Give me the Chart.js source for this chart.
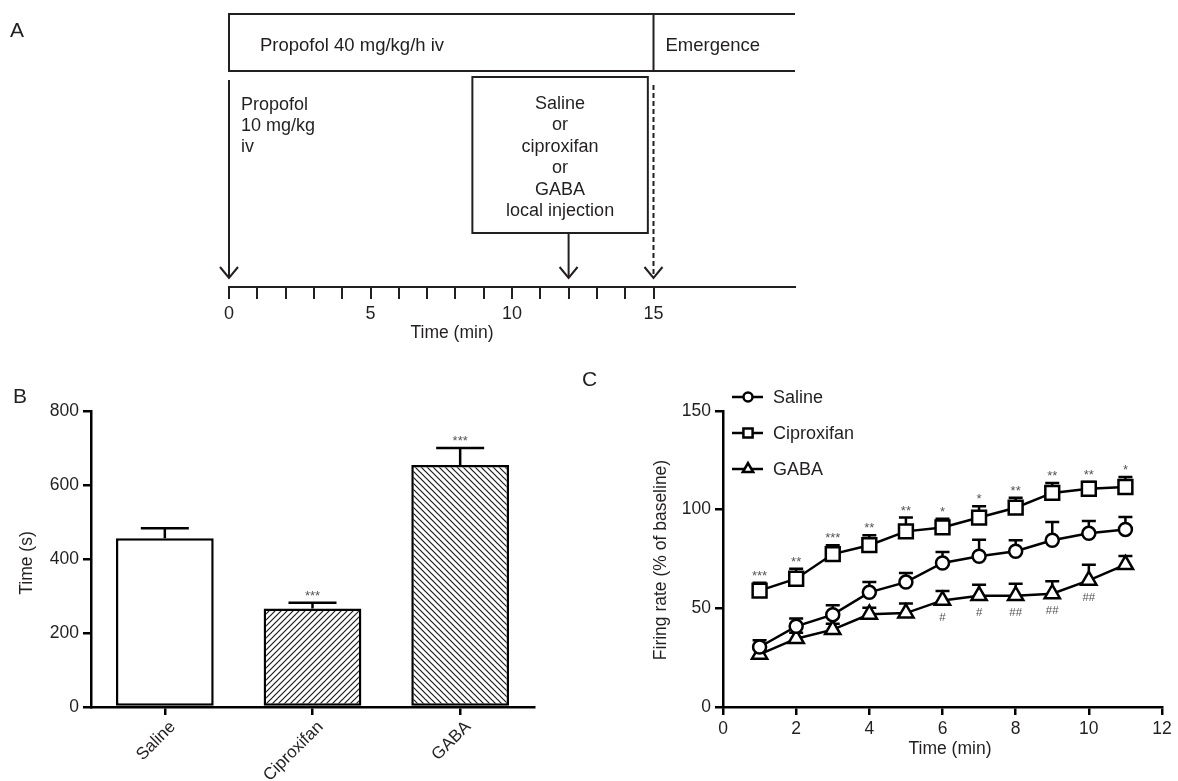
<!DOCTYPE html>
<html><head><meta charset="utf-8">
<script src="https://cdn.jsdelivr.net/npm/chart.js@4.4.1/dist/chart.umd.min.js"></script>
<style>
html,body{margin:0;padding:0;background:#fff;}
#wrap{position:relative;width:1178px;height:781px;overflow:hidden;background:#fff;}
canvas{position:absolute;}
</style></head><body>
<div id="wrap">
<canvas id="cA" width="1178" height="360" style="left:0;top:0"></canvas>
<canvas id="cB" width="580" height="411" style="left:0;top:370px"></canvas>
<canvas id="cC" width="598" height="411" style="left:580px;top:370px"></canvas>
</div>
<script>
// ---------- Panel A: protocol timeline ----------
const timeTicks = [0,1,2,3,4,5,6,7,8,9,10,11,12,13,14,15];
const timeTickLabels = [0,5,10,15];
const phaseBounds = [0, 15, 20];
const phaseLabels = ['Propofol 40 mg/kg/h iv', 'Emergence'];
const bolusTime = 0;
const bolusLines = ['Propofol', '10 mg/kg', 'iv'];
const injectionTime = 12;
const injectionWindow = [8.6, 14.8];
const injectionLines = ['Saline', 'or', 'ciproxifan', 'or', 'GABA', 'local injection'];
const emergenceTime = 15;

// ---------- Panel B: emergence time ----------
const groups = ['Saline', 'Ciproxifan', 'GABA'];
const meanTime = [456, 266, 654];
const semTime = [27, 16, 46];
const sigTime = ['', '***', '***'];
const timeAxisTicks = [0, 200, 400, 600, 800];

// ---------- Panel C: firing rate ----------
const minutes = [1,2,3,4,5,6,7,8,9,10,11];
const salineRate = [30.4, 40.9, 46.8, 58.1, 63.3, 73.0, 76.4, 78.9, 84.5, 88.0, 90.0];
const salineErr  = [3.4, 3.9, 4.7, 5.2, 4.6, 5.5, 8.4, 5.6, 9.2, 6.3, 6.3];
const ciproRate  = [59.0, 65.0, 77.5, 82.0, 89.0, 91.0, 96.0, 101.0, 108.5, 110.6, 111.5];
const ciproErr   = [4.0, 5.0, 4.5, 5.0, 7.0, 4.4, 5.7, 5.0, 5.0, 3.4, 5.0];
const gabaRate   = [26.7, 34.6, 39.2, 47.0, 47.6, 54.0, 56.4, 56.4, 57.4, 64.2, 72.1];
const gabaErr    = [3.0, 3.0, 3.0, 3.3, 4.8, 4.8, 5.6, 6.1, 6.3, 7.9, 4.4];
const ciproSig   = ['***','**','***','**','**','*','*','**','**','**','*'];
const gabaSig    = ['','','','','','#','#','##','##','##',''];
const seriesNames = ['Saline', 'Ciproxifan', 'GABA'];

const INK = '#231f20';
const FONT = '"Liberation Sans", Arial, Helvetica, sans-serif';

function font(size){ return size + 'px ' + FONT; }

function arrowDown(ctx, x, y0, y1, dashed){
  ctx.save();
  ctx.strokeStyle = INK; ctx.lineWidth = 2;
  if (dashed) ctx.setLineDash([5, 3]);
  ctx.beginPath(); ctx.moveTo(x, y0); ctx.lineTo(x, y1); ctx.stroke();
  ctx.setLineDash([]);
  ctx.beginPath();
  ctx.moveTo(x - 9, y1 - 11); ctx.lineTo(x, y1); ctx.lineTo(x + 9, y1 - 11);
  ctx.stroke();
  ctx.restore();
}

// ----- Chart A -----
const timelinePlugin = {
  id: 'timeline',
  afterDraw(chart){
    const ctx = chart.ctx, xs = chart.scales.x;
    const X = v => xs.getPixelForValue(v);
    ctx.save();
    ctx.strokeStyle = INK; ctx.lineWidth = 2; ctx.fillStyle = INK;
    const top = 14, bot = 71;
    ctx.beginPath();
    ctx.moveTo(X(phaseBounds[2]), top); ctx.lineTo(X(phaseBounds[0]), top);
    ctx.lineTo(X(phaseBounds[0]), bot); ctx.lineTo(X(phaseBounds[2]), bot);
    ctx.moveTo(X(phaseBounds[1]), top); ctx.lineTo(X(phaseBounds[1]), bot);
    ctx.stroke();
    ctx.font = font(18.5); ctx.textBaseline = 'alphabetic'; ctx.textAlign = 'left';
    ctx.fillText(phaseLabels[0], X(phaseBounds[0]) + 31, 51);
    ctx.fillText(phaseLabels[1], X(phaseBounds[1]) + 12, 51);
    arrowDown(ctx, X(bolusTime), 80, 278, false);
    ctx.font = font(18);
    bolusLines.forEach((t, i) => ctx.fillText(t, X(bolusTime) + 12, 110 + i * 21));
    const bx0 = X(injectionWindow[0]), bx1 = X(injectionWindow[1]);
    ctx.strokeRect(bx0, 77, bx1 - bx0, 156);
    ctx.textAlign = 'center';
    const cx = (bx0 + bx1) / 2;
    injectionLines.forEach((t, i) => ctx.fillText(t, cx, 109 + i * 21.4));
    arrowDown(ctx, X(injectionTime), 233, 278, false);
    arrowDown(ctx, X(emergenceTime), 85, 278, true);
    ctx.font = font(17.5);
    ctx.fillText('Time (min)', 452, 338);
    ctx.textAlign = 'left'; ctx.font = font(21);
    ctx.fillText('A', 10, 37);
    ctx.restore();
  }
};

new Chart(document.getElementById('cA'), {
  type: 'scatter',
  data: { datasets: [] },
  options: {
    responsive: false, animation: false,
    layout: { padding: { left: 229, right: 383, top: 0, bottom: 0 } },
    plugins: { legend: { display: false }, tooltip: { enabled: false } },
    scales: {
      x: {
        type: 'linear', min: phaseBounds[0], max: phaseBounds[2], position: 'bottom',
        afterBuildTicks: s => { s.ticks = timeTicks.map(v => ({ value: v })); },
        afterFit: s => { s.height = 73; },
        ticks: { autoSkip: false, maxRotation: 0, padding: 4, color: INK, font: { family: FONT, size: 18 },
                 callback: v => timeTickLabels.includes(v) ? String(v) : '' },
        grid: { drawOnChartArea: false, drawTicks: true, tickLength: 12, color: INK, lineWidth: 2 },
        border: { display: true, color: INK, width: 2 }
      },
      y: { display: false, min: 0, max: 1 }
    }
  },
  plugins: [timelinePlugin]
});

// ----- Chart B -----
function hatch(ctxRef, dir){
  const s = 6, c = document.createElement('canvas');
  c.width = s; c.height = s;
  const g = c.getContext('2d');
  g.fillStyle = '#fff'; g.fillRect(0, 0, s, s);
  g.strokeStyle = '#1a1a1a'; g.lineWidth = 1.2;
  g.beginPath();
  if (dir > 0) {
    g.moveTo(0, s); g.lineTo(s, 0);
    g.moveTo(-s/2, s/2); g.lineTo(s/2, -s/2);
    g.moveTo(s/2, s*1.5); g.lineTo(s*1.5, s/2);
  } else {
    g.moveTo(0, 0); g.lineTo(s, s);
    g.moveTo(-s/2, s/2); g.lineTo(s/2, s*1.5);
    g.moveTo(s/2, -s/2); g.lineTo(s*1.5, s/2);
  }
  g.stroke();
  return ctxRef.createPattern(c, 'repeat');
}
const cB = document.getElementById('cB');
const ctxB = cB.getContext('2d');
const barFills = ['#ffffff', hatch(ctxB, 1), hatch(ctxB, -1)];

const barErrPlugin = {
  id: 'barErr',
  afterDatasetsDraw(chart){
    const ctx = chart.ctx, ys = chart.scales.y;
    const meta = chart.getDatasetMeta(0);
    ctx.save();
    ctx.strokeStyle = '#000'; ctx.lineWidth = 2.5;
    meta.data.forEach((bar, i) => {
      const x = bar.x, y0 = ys.getPixelForValue(meanTime[i]), y1 = ys.getPixelForValue(meanTime[i] + semTime[i]);
      ctx.beginPath();
      ctx.moveTo(x, y0); ctx.lineTo(x, y1);
      ctx.moveTo(x - 24, y1); ctx.lineTo(x + 24, y1);
      ctx.stroke();
      if (sigTime[i]) {
        ctx.fillStyle = '#555'; ctx.font = font(13); ctx.textAlign = 'center'; ctx.textBaseline = 'alphabetic';
        ctx.fillText(sigTime[i], x, y1 - 3);
      }
    });
    ctx.restore();
  },
  afterDraw(chart){
    const ctx = chart.ctx, a = chart.chartArea;
    ctx.save();
    ctx.fillStyle = INK; ctx.font = font(17.5); ctx.textAlign = 'center'; ctx.textBaseline = 'middle';
    ctx.translate(27, (a.top + a.bottom) / 2 + 4); ctx.rotate(-Math.PI / 2);
    ctx.fillText('Time (s)', 0, 0);
    ctx.restore();
    ctx.save();
    ctx.fillStyle = INK; ctx.font = font(21); ctx.textAlign = 'left'; ctx.textBaseline = 'alphabetic';
    ctx.fillText('B', 13, 33);
    ctx.restore();
  }
};

new Chart(cB, {
  type: 'bar',
  data: {
    labels: groups,
    datasets: [{
      data: meanTime,
      backgroundColor: barFills,
      borderColor: '#000', borderWidth: 2.5, borderSkipped: false,
      barPercentage: 0.662, categoryPercentage: 1
    }]
  },
  options: {
    responsive: false, animation: false,
    layout: { padding: { left: 0, right: 46, top: 41, bottom: 0 } },
    plugins: { legend: { display: false }, tooltip: { enabled: false } },
    scales: {
      x: {
        type: 'category', offset: true,
        afterFit: s => { s.height = 74; },
        ticks: { minRotation: 45, maxRotation: 45, padding: 2, labelOffset: 8, color: INK, font: { family: FONT, size: 17 } },
        grid: { offset: false, drawOnChartArea: false, tickLength: 8, color: '#000', lineWidth: 2.5 },
        border: { color: '#000', width: 2.5 }
      },
      y: {
        min: 0, max: 800,
        afterBuildTicks: s => { s.ticks = timeAxisTicks.map(v => ({ value: v })); },
        afterFit: s => { s.width = 91; },
        ticks: { padding: 4, color: INK, font: { family: FONT, size: 17.5 } },
        grid: { drawOnChartArea: false, tickLength: 8, color: '#000', lineWidth: 2.5 },
        border: { color: '#000', width: 2.5 }
      }
    }
  },
  plugins: [barErrPlugin]
});

// ----- Chart C -----
const rates = [salineRate, ciproRate, gabaRate];
const errs = [salineErr, ciproErr, gabaErr];
const styles = [
  { pointStyle: 'circle', radius: 6.5, legendRadius: 4.5 },
  { pointStyle: 'rect', radius: 9.8, legendRadius: 6.5 },
  { pointStyle: 'triangle', radius: 8.8, legendRadius: 6 }
];

const lineErrPlugin = {
  id: 'lineErr',
  beforeDatasetsDraw(chart){
    const ctx = chart.ctx, xs = chart.scales.x, ys = chart.scales.y;
    ctx.save();
    ctx.strokeStyle = '#000'; ctx.lineWidth = 2.5;
    rates.forEach((arr, d) => {
      arr.forEach((v, i) => {
        const x = xs.getPixelForValue(minutes[i]);
        const y0 = ys.getPixelForValue(v), y1 = ys.getPixelForValue(v + errs[d][i]);
        ctx.beginPath();
        ctx.moveTo(x, y0); ctx.lineTo(x, y1);
        ctx.moveTo(x - 7, y1); ctx.lineTo(x + 7, y1);
        ctx.stroke();
      });
    });
    ctx.restore();
  },
  afterDraw(chart){
    const ctx = chart.ctx, xs = chart.scales.x, ys = chart.scales.y;
    ctx.save();
    ctx.fillStyle = '#555'; ctx.textAlign = 'center'; ctx.textBaseline = 'alphabetic';
    ctx.font = font(13);
    ciproSig.forEach((t, i) => {
      if (!t) return;
      const x = xs.getPixelForValue(minutes[i]);
      const y1 = ys.getPixelForValue(ciproRate[i] + ciproErr[i]);
      ctx.fillText(t, x, y1 - 3);
    });
    ctx.font = font(11.5);
    gabaSig.forEach((t, i) => {
      if (!t) return;
      const x = xs.getPixelForValue(minutes[i]);
      const y = ys.getPixelForValue(gabaRate[i]);
      ctx.fillText(t, x, y + 20.5);
    });
    ctx.restore();
    ctx.save();
    seriesNames.forEach((name, d) => {
      const ly = 27 + d * 36;
      ctx.strokeStyle = '#000'; ctx.lineWidth = 2.5;
      ctx.beginPath(); ctx.moveTo(152, ly); ctx.lineTo(183, ly); ctx.stroke();
      ctx.fillStyle = '#fff'; ctx.strokeStyle = '#000';
      Chart.helpers.drawPoint(ctx, { pointStyle: styles[d].pointStyle, radius: styles[d].legendRadius, rotation: 0, borderWidth: 2.2 }, 168, ly);
      ctx.fillStyle = INK; ctx.font = font(18); ctx.textAlign = 'left'; ctx.textBaseline = 'middle';
      ctx.fillText(name, 193, ly + 1);
    });
    ctx.restore();
    ctx.save();
    ctx.fillStyle = INK; ctx.font = font(17.5); ctx.textAlign = 'center'; ctx.textBaseline = 'alphabetic';
    ctx.fillText('Time (min)', 370, 384);
    ctx.translate(81, 190); ctx.rotate(-Math.PI / 2);
    ctx.textBaseline = 'middle';
    ctx.fillText('Firing rate (% of baseline)', 0, 0);
    ctx.restore();
    ctx.save();
    ctx.fillStyle = INK; ctx.font = font(21); ctx.textAlign = 'left'; ctx.textBaseline = 'alphabetic';
    ctx.fillText('C', 2, 16);
    ctx.restore();
  }
};

new Chart(document.getElementById('cC'), {
  type: 'line',
  data: {
    datasets: rates.map((arr, d) => ({
      label: seriesNames[d],
      data: arr.map((v, i) => ({ x: minutes[i], y: v })),
      borderColor: '#000', borderWidth: 2.5, tension: 0, fill: false,
      pointStyle: styles[d].pointStyle, pointRadius: styles[d].radius,
      pointBackgroundColor: '#fff', pointBorderColor: '#000', pointBorderWidth: 2.5
    }))
  },
  options: {
    responsive: false, animation: false,
    layout: { padding: { left: 0, right: 16, top: 41, bottom: 0 } },
    plugins: { legend: { display: false }, tooltip: { enabled: false } },
    scales: {
      x: {
        type: 'linear', min: 0, max: 12,
        afterFit: s => { s.height = 74; },
        ticks: { stepSize: 2, padding: 4, maxRotation: 0, color: INK, font: { family: FONT, size: 17.5 } },
        grid: { drawOnChartArea: false, tickLength: 8, color: '#000', lineWidth: 2.5 },
        border: { color: '#000', width: 2.5 }
      },
      y: {
        min: 0, max: 150,
        afterFit: s => { s.width = 143; },
        ticks: { stepSize: 50, padding: 4, color: INK, font: { family: FONT, size: 17.5 } },
        grid: { drawOnChartArea: false, tickLength: 8, color: '#000', lineWidth: 2.5 },
        border: { color: '#000', width: 2.5 }
      }
    }
  },
  plugins: [lineErrPlugin]
});
</script>
</body></html>
